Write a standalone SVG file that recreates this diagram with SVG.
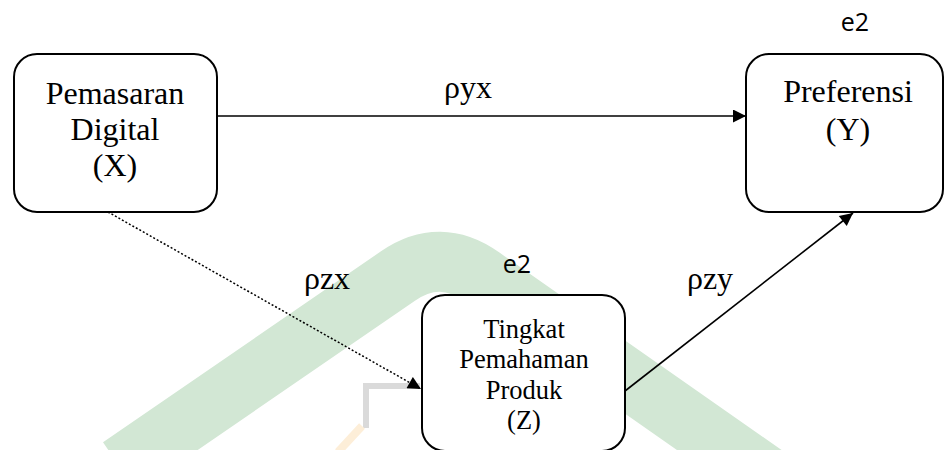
<svg xmlns="http://www.w3.org/2000/svg" width="944" height="450" viewBox="0 0 944 450">
  <style>
    .box { fill: #ffffff; stroke: #000000; stroke-width: 2; }
    .lbl { font-family: "Liberation Serif", "Times New Roman", "DejaVu Serif", serif; fill: #000000; text-anchor: middle; }
    .big { font-size: 32px; }
    .mid { font-size: 26.5px; }
    .err { font-family: "Open Sans", "Liberation Sans", sans-serif; font-size: 25px; fill: #000000; text-anchor: middle; }
    .edge { stroke: #000000; stroke-width: 1.6; fill: none; }
    .dot { stroke-dasharray: 2 2; stroke-width: 1.5; }
  </style>
  <defs>
    <marker id="arrowBig" viewBox="0 0 10 10" refX="10" refY="5" markerWidth="16" markerHeight="13" markerUnits="userSpaceOnUse" orient="auto">
      <path d="M0,0 L10,5 L0,10 Z" fill="#000000"/>
    </marker>
    <marker id="arrowSmall" viewBox="0 0 10 10" refX="10" refY="5" markerWidth="15" markerHeight="13" markerUnits="userSpaceOnUse" orient="auto">
      <path d="M0,0 L10,5 L0,10 Z" fill="#000000"/>
    </marker>
  </defs>
  <rect x="0" y="0" width="944" height="450" fill="#ffffff"/>

  <g id="watermark">
    <path d="M 120,467 L 398,276 Q 440,247 482,277 L 775,482" fill="none" stroke="#d2e7d4" stroke-width="60"/>
    <path d="M 366,428 L 366,386 L 420,386" fill="none" stroke="#dadada" stroke-width="6"/>
    <path d="M 338,452 L 362,426" fill="none" stroke="#fdeed8" stroke-width="8"/>
  </g>

  <g id="connectors">
    <line class="edge" x1="217" y1="116" x2="746" y2="116" marker-end="url(#arrowBig)"/>
    <line class="edge dot" x1="108" y1="212" x2="421" y2="389" marker-end="url(#arrowSmall)"/>
    <line class="edge" x1="625" y1="391" x2="853" y2="213" marker-end="url(#arrowBig)"/>
    <text class="lbl big" x="468" y="98">ρyx</text>
    <text class="lbl big" x="327" y="289">ρzx</text>
    <text class="lbl big" x="710" y="289">ρzy</text>
  </g>

  <g id="node-x">
    <rect class="box" x="14" y="54" width="203" height="158" rx="23" ry="23"/>
    <text class="lbl big" x="115" y="104">Pemasaran</text>
    <text class="lbl big" x="115" y="140">Digital</text>
    <text class="lbl big" x="115" y="176">(X)</text>
  </g>

  <g id="node-y">
    <rect class="box" x="746" y="54" width="197" height="158" rx="23" ry="23"/>
    <text class="lbl big" x="848" y="102">Preferensi</text>
    <text class="lbl big" x="848" y="140">(Y)</text>
    <text class="err" x="855" y="31">e2</text>
  </g>

  <g id="node-z">
    <rect class="box" x="422" y="295" width="203" height="156" rx="23" ry="23"/>
    <text class="lbl mid" x="524" y="338">Tingkat</text>
    <text class="lbl mid" x="524" y="368">Pemahaman</text>
    <text class="lbl mid" x="524" y="399">Produk</text>
    <text class="lbl mid" x="524" y="429">(Z)</text>
    <text class="err" x="517" y="273">e2</text>
  </g>
</svg>
